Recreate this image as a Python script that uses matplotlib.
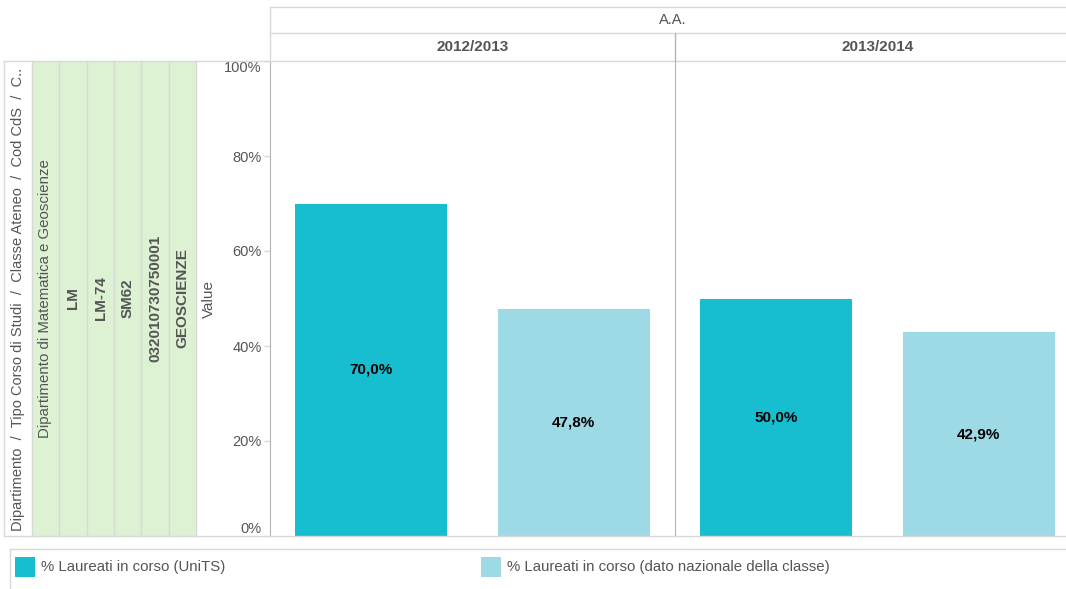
import matplotlib.pyplot as plt
from matplotlib.lines import Line2D
from matplotlib.patches import Rectangle

# data
years = ["2012/2013", "2013/2014"]
series_names = ["% Laureati in corso (UniTS)",
                "% Laureati in corso (dato nazionale della classe)"]
units_values = [70.0, 50.0]
national_values = [47.8, 42.9]
row_title = "Dipartimento  /  Tipo Corso di Studi  /  Classe Ateneo  /  Cod CdS  /  C.."
row_values = ["Dipartimento di Matematica e Geoscienze", "LM", "LM-74",
              "SM62", "032010730750001", "GEOSCIENZE"]
row_bold = [False, True, True, True, True, True]
y_ticks = [0, 20, 40, 60, 80, 100]

W, H = 1066, 589
C_UNITS = "#17becf"
C_NAT = "#9edae5"
C_GREEN = "#ddf1d3"
C_LINE = "#d9d9d9"
C_AXIS = "#b5b5b5"
C_TEXT = "#555555"

plt.rcParams["font.family"] = ["Liberation Sans", "DejaVu Sans"]


def fx(x):
    return x / W


def fy(y):
    return 1 - y / H


def hline(fig, y, x0, x1, color=C_LINE):
    fig.add_artist(Line2D([fx(x0), fx(x1)], [fy(y), fy(y)], color=color, lw=1))


def vline(fig, x, y0, y1, color=C_LINE):
    fig.add_artist(Line2D([fx(x), fx(x)], [fy(y0), fy(y1)], color=color, lw=1))


def main():
    fig = plt.figure(figsize=(W / 100, H / 100), dpi=100)

    top, bottom = 61, 536
    panel_left = [270, 675]
    panel_w = 405

    # left row-header panel
    col_edges = [4, 32, 59, 87, 114, 141, 169, 196]
    fig.add_artist(Rectangle((fx(32), fy(bottom)), fx(196) - fx(32), fy(top) - fy(bottom),
                             facecolor=C_GREEN, edgecolor="none"))
    for x in col_edges:
        vline(fig, x, top, bottom)
    mid_y = (top + bottom) / 2
    fig.text(fx(18), fy(531), row_title, rotation=90, rotation_mode="anchor",
             ha="left", va="center", fontsize=10.5, color=C_TEXT)
    for i, (label, bold) in enumerate(zip(row_values, row_bold)):
        cx = (col_edges[i + 1] + col_edges[i + 2]) / 2
        fig.text(fx(cx), fy(mid_y), label, rotation=90, ha="center", va="center",
                 fontsize=11 if bold else 10.8, color=C_TEXT,
                 fontweight="bold" if bold else "normal")
    fig.text(fx(209), fy(mid_y), "Value", rotation=90, ha="center", va="center",
             fontsize=11, color=C_TEXT)

    # header box
    hline(fig, 7, 270, W)
    hline(fig, 33, 270, W)
    hline(fig, top, 4, W)
    hline(fig, bottom, 4, W)
    vline(fig, 270, 7, top)
    fig.text(fx(673), fy(20), "A.A.", ha="center", va="center", fontsize=10.5, color=C_TEXT)

    unit = panel_w / 2.0
    for i, year in enumerate(years):
        x0 = panel_left[i]
        ax = fig.add_axes([fx(x0), fy(bottom), panel_w / W, (bottom - top) / H])
        ax.bar([0], [units_values[i]], width=0.75, color=C_UNITS)
        ax.bar([1], [national_values[i]], width=0.75, color=C_NAT)
        for xpos, v in zip([0, 1], [units_values[i], national_values[i]]):
            ax.text(xpos, v / 2, f"{v:.1f}%".replace(".", ","), ha="center",
                    va="center", fontsize=11, fontweight="bold", color="black")
        ax.set_xlim(-0.5, 1.5)
        ax.set_ylim(0, 100)
        ax.set_xticks([])
        for side in ["top", "right", "bottom"]:
            ax.spines[side].set_visible(False)
        ax.spines["left"].set_color(C_AXIS)
        ax.patch.set_alpha(0)
        if i == 0:
            ax.set_yticks(y_ticks)
            ax.set_yticklabels([f"{t}%" for t in y_ticks])
            ax.tick_params(axis="y", length=4, width=1, color=C_LINE, pad=2,
                           labelsize=10.5, labelcolor=C_TEXT)
            labels = ax.get_yticklabels()
            labels[0].set_va("bottom")
            labels[-1].set_va("top")
        else:
            ax.set_yticks([])
            vline(fig, x0, 33, top, color=C_AXIS)
        fig.text(fx(x0 + unit), fy(47), year, ha="center", va="center",
                 fontsize=11, fontweight="bold", color=C_TEXT)

    # legend
    hline(fig, 549, 10, W)
    vline(fig, 10, 549, H)
    for xs, name, color in zip([15, 481], series_names, [C_UNITS, C_NAT]):
        fig.add_artist(Rectangle((fx(xs), fy(577)), 20 / W, 20 / H,
                                 facecolor=color, edgecolor="none"))
        fig.text(fx(xs + 26), fy(567), name, ha="left", va="center",
                 fontsize=10.8, color=C_TEXT)

    fig.savefig("out.png", dpi=100)


if __name__ == "__main__":
    main()
